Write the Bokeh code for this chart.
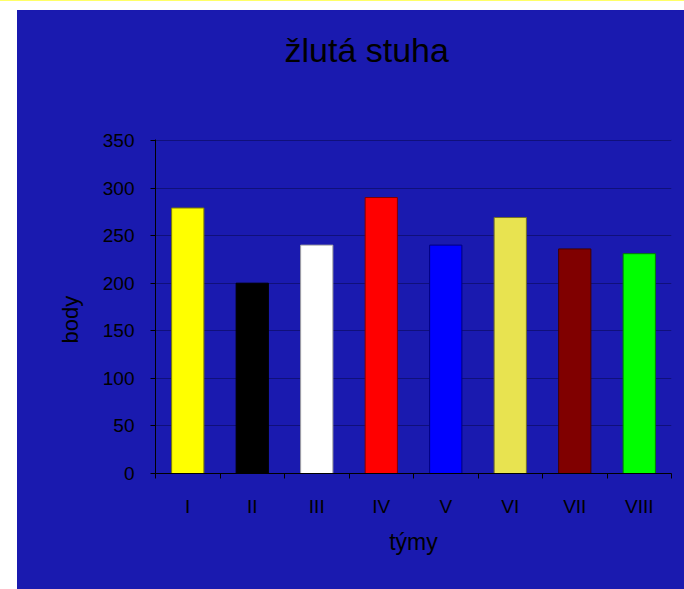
from bokeh.plotting import figure
from bokeh.models import Range1d, FixedTicker, Title, ColumnDataSource, Div
from bokeh.layouts import column
from bokeh.embed import file_html
from bokeh.resources import INLINE

# ---- data ----
categories = ["I", "II", "III", "IV", "V", "VI", "VII", "VIII"]
values = [279, 200, 240, 290, 240, 269, 236, 231]
y_ticks = [0, 50, 100, 150, 200, 250, 300, 350]
title_text = "žlutá stuha"
x_label = "týmy"
y_label = "body"

# ---- styles ----
bar_colors = ["#FFFF00", "#000000", "#FFFFFF", "#FF0000", "#0000FF", "#E8E350", "#800000", "#00FF00"]
BLUE = "#1A1AAF"
GRID = "#10107A"
FONT = "Liberation Sans"


def darker(hex_color):
    h = hex_color.lstrip("#")
    r, g, b = (int(h[i:i + 2], 16) for i in (0, 2, 4))
    if (r, g, b) == (255, 255, 255):
        return "#A0A0A0"
    return "#%02X%02X%02X" % (r // 2, g // 2, b // 2)


n = len(categories)
centers = [i + 0.5 for i in range(n)]
bounds = [float(i) for i in range(n + 1)]

src = ColumnDataSource(dict(
    x=centers,
    top=values,
    color=bar_colors,
    line=[darker(c) for c in bar_colors],
))

p = figure(
    width=667, height=579,
    x_range=Range1d(0, n), y_range=Range1d(0, 351),
    output_backend="svg", toolbar_location=None,
    min_border_left=138, min_border_right=13,
    min_border_top=129, min_border_bottom=116,
    background_fill_color=BLUE, border_fill_color=BLUE,
    outline_line_color=None,
)
p.styles = {"margin-left": "17px", "margin-top": "9px", "background-color": BLUE}

p.vbar(x="x", top="top", width=0.5, bottom=0, fill_color="color",
       line_color="line", line_width=1, source=src)

# x axis: labels at centres, ticks at category boundaries
xa = p.xaxis[0]
xa.ticker = FixedTicker(ticks=centers, minor_ticks=bounds)
xa.major_label_overrides = {c: lab for c, lab in zip(centers, categories)}
xa.major_tick_out = 0
xa.major_tick_in = 0
xa.minor_tick_out = 5
xa.minor_tick_in = 0
xa.minor_tick_line_color = "black"
xa.axis_line_color = "black"
xa.major_label_text_font = FONT
xa.major_label_text_font_size = "19px"
xa.major_label_text_color = "black"
xa.major_label_standoff = 17
xa.axis_label = x_label
xa.axis_label_text_font = FONT
xa.axis_label_text_font_size = "23px"
xa.axis_label_text_font_style = "normal"
xa.axis_label_text_color = "black"
xa.axis_label_standoff = 9

ya = p.yaxis[0]
ya.ticker = FixedTicker(ticks=y_ticks)
ya.major_tick_out = 5
ya.major_tick_in = 0
ya.minor_tick_line_color = None
ya.axis_line_color = "black"
ya.major_tick_line_color = "black"
ya.major_label_text_font = FONT
ya.major_label_text_font_size = "19px"
ya.major_label_text_color = "black"
ya.major_label_standoff = 16

p.xgrid.visible = False
p.ygrid.grid_line_color = GRID
p.ygrid.grid_line_width = 1

# title (trailing empty line lifts it up within the top border)
p.title.text = title_text + "\n"
p.title.text_font = FONT
p.title.text_font_size = "34px"
p.title.text_font_style = "normal"
p.title.text_color = "black"
p.title.text_line_height = 1.45
p.title.align = "left"
p.title.offset = 129
p.title.standoff = 30

# y axis label as a side title (allows shifting along the axis)
p.add_layout(Title(text=y_label, align="left", offset=130, standoff=34,
                   text_font=FONT, text_font_size="22px", text_font_style="normal",
                   text_color="black"), "left")

top_line = Div(text="", width=684, height=1, margin=0,
               styles={"background-color": "#FFFF66"})

open("out.html", "w").write(file_html(column(top_line, p), INLINE))
